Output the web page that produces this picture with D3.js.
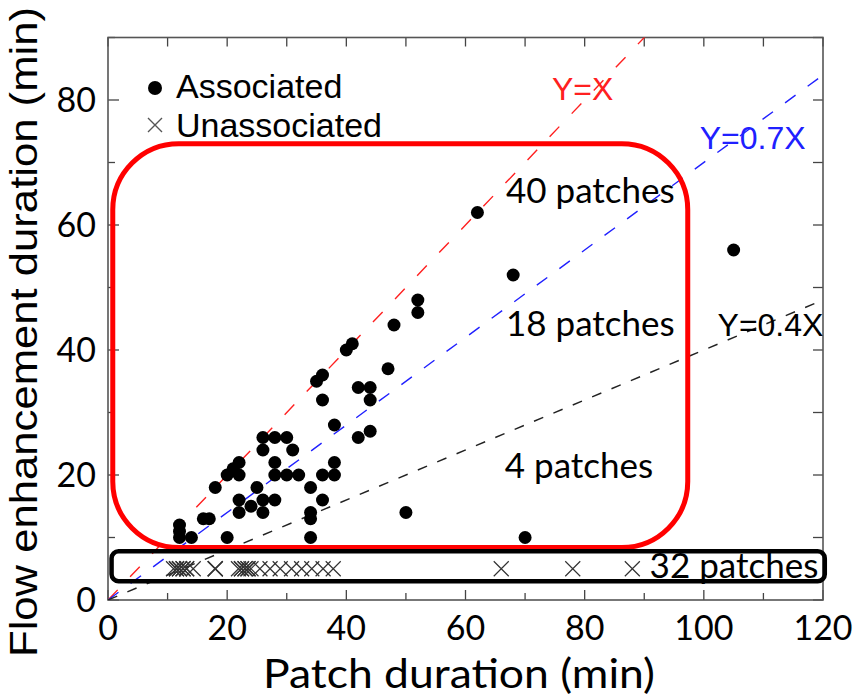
<!DOCTYPE html>
<html>
<head>
<meta charset="utf-8">
<script src="https://cdn.jsdelivr.net/npm/d3@7"></script>
<style>
  body { margin: 0; background: #fff; }
  svg { display: block; }
</style>
</head>
<body>
<div id="chart"></div>
<script>
// associated patches (filled dots)
var assocX = [12, 12, 12, 14, 16, 17, 18, 20, 20, 21, 22, 22, 22, 22, 24, 25, 26, 26, 26, 26,
              28, 28, 28, 28, 30, 31, 30, 32, 34, 34, 34, 34, 35, 36, 36, 36, 36, 38, 38, 38,
              40, 41, 42, 44, 44, 42, 44, 47, 48, 50, 52, 52, 62, 68, 70, 105];
var assocY = [12, 11, 10, 10, 13, 13, 18, 10, 20, 21, 22, 20, 16, 14, 15, 18, 26, 24, 16, 14,
              26, 22, 20, 16, 26, 24, 20, 20, 18, 14, 13, 10, 35, 36, 32, 20, 16, 28, 22, 20,
              40, 41, 34, 34, 32, 26, 27, 37, 44, 14, 48, 46, 62, 52, 10, 56];

// unassociated patches (crosses), all drawn at the same height
var unassocX = [11, 11.5, 11.5, 12, 12, 12.6, 12.6, 13.2, 13.2, 14.3, 18, 18, 18,
                21.9, 22.4, 22.4, 23, 23, 23.5, 23.5, 24, 25.5, 27.2, 28.9, 30.8,
                32.5, 34.2, 36.1, 37.8, 66, 78, 88];
var unassocY = 5;

// reference lines Y = k X
var refSlopes = [1, 0.7, 0.4];
var refLabels = ["Y=X", "Y=0.7X", "Y=0.4X"];
var refColors = ["#ff2020", "#2020ff", "#222"];

var xTicks = [0, 20, 40, 60, 80, 100, 120];
var yTicks = [0, 20, 40, 60, 80];

// group boxes and their counts
var boxLabels = ["40 patches", "18 patches", "4 patches", "32 patches"];

var width = 853, height = 697;
var margin = {top: 37.5, right: 30, bottom: 97, left: 108};

var svg = d3.select("#chart").append("svg")
    .attr("width", width)
    .attr("height", height);

var x = d3.scaleLinear().domain([0, 120]).range([margin.left, width - margin.right]);
var y = d3.scaleLinear().domain([0, 90]).range([height - margin.bottom, margin.top]);

var tickFont = "Lato, 'Open Sans', sans-serif";
var arial = "'Liberation Sans', Arial, sans-serif";

svg.append("clipPath").attr("id", "plotclip")
  .append("rect")
    .attr("x", x(0)).attr("y", y(90))
    .attr("width", x(120) - x(0)).attr("height", y(0) - y(90));

// ticks, all pointing inward
var minorX = d3.range(0, 121, 10), minorY = d3.range(0, 91, 10);
var tickG = svg.append("g").attr("stroke", "#444").attr("stroke-width", 1.3);
minorX.forEach(function(v) {
    var len = v % 20 === 0 ? 10 : 7;
    tickG.append("line").attr("x1", x(v)).attr("x2", x(v)).attr("y1", y(0)).attr("y2", y(0) - len);
    tickG.append("line").attr("x1", x(v)).attr("x2", x(v)).attr("y1", y(90)).attr("y2", y(90) + 9);
});
minorY.forEach(function(v) {
    var len = v % 20 === 0 ? 11 : 7;
    tickG.append("line").attr("y1", y(v)).attr("y2", y(v)).attr("x1", x(0)).attr("x2", x(0) + len);
    tickG.append("line").attr("y1", y(v)).attr("y2", y(v)).attr("x1", x(120)).attr("x2", x(120) - 10);
});

// frame
svg.append("rect")
    .attr("x", x(0)).attr("y", y(90))
    .attr("width", x(120) - x(0)).attr("height", y(0) - y(90))
    .attr("fill", "none").attr("stroke", "#555").attr("stroke-width", 1.6);

// tick labels
svg.append("g").selectAll("text").data(xTicks).join("text")
    .attr("x", function(d) { return x(d); })
    .attr("y", y(0) + 40)
    .attr("text-anchor", "middle")
    .attr("font-family", tickFont).attr("font-size", 34)
    .text(function(d) { return d; });

svg.append("g").selectAll("text").data(yTicks).join("text")
    .attr("x", x(0) - 12)
    .attr("y", function(d) { return y(d) + 12; })
    .attr("text-anchor", "end")
    .attr("font-family", tickFont).attr("font-size", 34)
    .text(function(d) { return d; });

// axis titles
svg.append("text")
    .attr("x", 459)
    .attr("y", 688)
    .attr("text-anchor", "middle")
    .attr("font-family", tickFont).attr("font-size", 41)
    .attr("textLength", 392).attr("lengthAdjust", "spacingAndGlyphs")
    .text("Patch duration (min)");

svg.append("text")
    .attr("transform", "translate(37," + 332 + ") rotate(-90)")
    .attr("text-anchor", "middle")
    .attr("font-family", arial).attr("font-size", 38)
    .attr("textLength", 650).attr("lengthAdjust", "spacingAndGlyphs")
    .text("Flow enhancement duration (min)");

// reference lines
var lineDash = ["14,18", "13,15", "10,11"];
var plot = svg.append("g").attr("clip-path", "url(#plotclip)");
refSlopes.forEach(function(k, i) {
    plot.append("line")
        .attr("x1", x(0)).attr("y1", y(0))
        .attr("x2", x(120)).attr("y2", y(120 * k))
        .attr("stroke", refColors[i])
        .attr("stroke-width", 1.4)
        .attr("stroke-dasharray", lineDash[i]);
});

// group boxes
svg.append("rect")
    .attr("x", x(0.8)).attr("y", y(73))
    .attr("width", x(97.3) - x(0.8)).attr("height", y(8.4) - y(73))
    .attr("rx", 66).attr("ry", 66)
    .attr("fill", "none").attr("stroke", "#ff0000").attr("stroke-width", 5);

svg.append("rect")
    .attr("x", x(0.6)).attr("y", y(7.8))
    .attr("width", x(120.3) - x(0.6)).attr("height", y(3) - y(7.8))
    .attr("rx", 7).attr("ry", 7)
    .attr("fill", "none").attr("stroke", "#000").attr("stroke-width", 4.5);

// unassociated crosses
var s = 7.5;
svg.append("g").selectAll("path").data(unassocX).join("path")
    .attr("transform", function(d) { return "translate(" + x(d) + "," + y(unassocY) + ")"; })
    .attr("d", "M" + (-s) + "," + (-s) + "L" + s + "," + s + "M" + (-s) + "," + s + "L" + s + "," + (-s))
    .attr("stroke", "#333").attr("stroke-width", 1.2).attr("fill", "none");

// associated dots
svg.append("g").selectAll("circle").data(assocX).join("circle")
    .attr("cx", function(d) { return x(d); })
    .attr("cy", function(d, i) { return y(assocY[i]); })
    .attr("r", 6.5)
    .attr("fill", "#000");

// box counts
var boxLabelPos = [[66.8, 63.6], [66.8, 42.3], [66.6, 19.5], [90.9, 3.5]];
svg.append("g").selectAll("text").data(boxLabels).join("text")
    .attr("x", function(d, i) { return x(boxLabelPos[i][0]); })
    .attr("y", function(d, i) { return y(boxLabelPos[i][1]); })
    .attr("font-family", tickFont).attr("font-size", 35)
    .attr("fill", "#000")
    .text(function(d) { return d; });

// line labels
var refLabelPos = [[74.5, 80], [99.3, 72.1], [102.3, 42.3]];
svg.append("g").selectAll("text").data(refLabels).join("text")
    .attr("x", function(d, i) { return x(refLabelPos[i][0]); })
    .attr("y", function(d, i) { return y(refLabelPos[i][1]); })
    .attr("font-family", arial).attr("font-size", 32)
    .attr("fill", function(d, i) { return refColors[i] === "#222" ? "#000" : refColors[i]; })
    .text(function(d) { return d; });

// legend
var legend = svg.append("g");
legend.append("circle").attr("cx", 155).attr("cy", 88).attr("r", 7).attr("fill", "#000");
legend.append("path")
    .attr("d", "M148,118L162,132M148,132L162,118")
    .attr("stroke", "#555").attr("stroke-width", 1.4);
legend.append("text").attr("x", 176).attr("y", 98)
    .attr("font-family", arial).attr("font-size", 34).text("Associated");
legend.append("text").attr("x", 176).attr("y", 137)
    .attr("font-family", arial).attr("font-size", 34).text("Unassociated");
</script>
</body>
</html>
